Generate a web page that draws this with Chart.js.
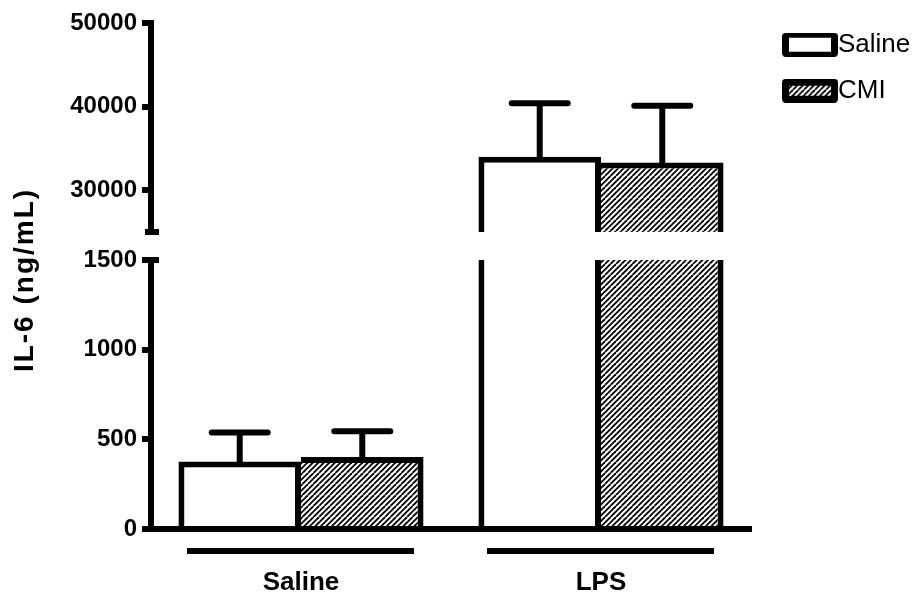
<!DOCTYPE html>
<html>
<head>
<meta charset="utf-8">
<title>IL-6</title>
<script src="https://cdn.jsdelivr.net/npm/chart.js@4.4.1/dist/chart.umd.min.js"></script>
<style>
  html, body { margin: 0; padding: 0; background: #fff; }
</style>
</head>
<body>
<canvas id="graph" width="918" height="599"></canvas>
<script>
// Données (moyenne + SEM, ng/mL)
const categories = ['Saline', 'LPS'];
const seriesNames = ['Saline', 'CMI'];
const salineMean = [377, 34000];
const salineSem = [161, 6400];
const cmiMean = [402, 33300];
const cmiSem = [143, 6800];

// Axe coupé : partie basse et partie haute
const lowerRange = [0, 1500];
const upperRange = [25000, 50000];
const lowerTicks = [0, 500, 1000, 1500];
const upperTicks = [30000, 40000, 50000];

const noir = '#000';
Chart.defaults.font.family = "'Liberation Sans', Arial, sans-serif";
Chart.defaults.color = noir;

// Motif hachuré pour CMI
function hachures(g) {
  const c = document.createElement('canvas');
  c.width = 11; c.height = 11;
  const t = c.getContext('2d');
  t.fillStyle = '#fff';
  t.fillRect(0, 0, 11, 11);
  t.strokeStyle = noir;
  t.lineWidth = 1.8;
  for (let k = -11; k <= 11; k += 5.5) {
    t.beginPath(); t.moveTo(k, 11); t.lineTo(k + 11, 0); t.stroke();
  }
  return g.createPattern(c, 'repeat');
}

// Petites cases de la légende
function caseLegende(hachure, dx, dy) {
  const c = document.createElement('canvas');
  c.width = 56; c.height = 24;
  const g = c.getContext('2d');
  g.fillStyle = noir;
  g.beginPath();
  if (g.roundRect) g.roundRect(0, 0, 56, 24, 4); else g.rect(0, 0, 56, 24);
  g.fill();
  g.fillStyle = hachure ? hachures(g) : '#fff';
  g.fillRect(dx, dy, 56 - 2 * dx, 24 - 2 * dy);
  return c;
}

const ctxGraph = document.getElementById('graph').getContext('2d');
const motif = hachures(ctxGraph);
const casesLegende = [caseLegende(false, 7, 5), caseLegende(true, 7, 7)];

const bas = v => Math.min(v, lowerRange[1]);
const haut = v => (v > lowerRange[1] ? v : null);

// pas de trait du haut quand la barre continue au-dessus de la coupure
function bordureBas(moy, gauche) {
  return c => ({ left: gauche, right: 6, top: moy[c.dataIndex] > lowerRange[1] ? 0 : 6, bottom: 0 });
}

// Barres d'erreur (SEM, vers le haut seulement)
function dessinerErreurs(chart) {
  const ctx = chart.ctx;
  const series = [[salineMean, salineSem, 0, 2], [cmiMean, cmiSem, 1, 3]];
  ctx.save();
  ctx.strokeStyle = noir;
  ctx.lineWidth = 6;
  series.forEach(([moy, sem, iBas, iHaut]) => {
    moy.forEach((m, i) => {
      const enHaut = m > lowerRange[1];
      const meta = chart.getDatasetMeta(enHaut ? iHaut : iBas);
      const axe = chart.scales[enHaut ? 'yHigh' : 'yLow'];
      const x = meta.data[i].x;
      const y0 = axe.getPixelForValue(m);
      const y1 = axe.getPixelForValue(m + sem[i]);
      ctx.lineCap = 'butt';
      ctx.beginPath(); ctx.moveTo(x, y0 + 3); ctx.lineTo(x, y1); ctx.stroke();
      ctx.lineCap = 'round';
      ctx.beginPath(); ctx.moveTo(x - 28, y1); ctx.lineTo(x + 28, y1); ctx.stroke();
    });
  });
  ctx.restore();
}

// Titre de l'axe y, traits sous les groupes, marques de coupure
const decor = {
  id: 'decor',
  afterLayout(chart) {
    const lg = chart.legend;
    lg.left = 775; lg.top = 11.7; lg.right = 918; lg.bottom = 200;
    lg.width = lg.right - lg.left; lg.height = lg.bottom - lg.top;
  },
  afterDatasetsDraw(chart) {
    dessinerErreurs(chart);
  },
  afterDraw(chart) {
    const ctx = chart.ctx;
    const xs = chart.scales.x;
    const yLow = chart.scales.yLow;
    const yHigh = chart.scales.yHigh;
    ctx.save();
    ctx.strokeStyle = noir;
    ctx.lineWidth = 6;
    ctx.lineCap = 'butt';
    categories.forEach((c, i) => {
      const cx = xs.getPixelForValue(i);
      ctx.beginPath();
      ctx.moveTo(cx - 114, chart.chartArea.bottom + 22);
      ctx.lineTo(cx + 113, chart.chartArea.bottom + 22);
      ctx.stroke();
    });
    const yb = yHigh.getPixelForValue(upperRange[0]);
    ctx.beginPath(); ctx.moveTo(145, yb); ctx.lineTo(159, yb); ctx.stroke();
    const yt = yLow.getPixelForValue(lowerRange[1]);
    ctx.beginPath(); ctx.moveTo(142, yt); ctx.lineTo(159, yt); ctx.stroke();

    ctx.translate(25, 280);
    ctx.rotate(-Math.PI / 2);
    ctx.fillStyle = noir;
    ctx.font = "bold 28px 'Liberation Sans', Arial, sans-serif";
    if ('letterSpacing' in ctx) ctx.letterSpacing = '2px';
    ctx.textAlign = 'center';
    ctx.textBaseline = 'middle';
    ctx.fillText('IL-6 (ng/mL)', 0, 0);
    ctx.restore();
  }
};

const axeY = (range, ticks, poids) => ({
  type: 'linear',
  position: 'left',
  stack: 'gauche',
  stackWeight: poids,
  stacked: false,
  min: range[0],
  max: range[1],
  afterBuildTicks: s => { s.ticks = ticks.map(v => ({ value: v })); },
  afterFit: s => { s.width = 151; },
  ticks: { color: noir, padding: 5, font: { size: 24, weight: 'bold' }, callback: v => String(v) },
  grid: { drawOnChartArea: false, drawTicks: true, tickLength: 9, color: noir, lineWidth: 6 },
  border: { display: true, color: noir, width: 6 }
});

new Chart(ctxGraph, {
  type: 'bar',
  data: {
    labels: categories,
    datasets: [
      { label: seriesNames[0], data: salineMean.map(bas), yAxisID: 'yLow', stack: 's',
        backgroundColor: '#fff', borderColor: noir, borderWidth: bordureBas(salineMean, 6) },
      { label: seriesNames[1], data: cmiMean.map(bas), yAxisID: 'yLow', stack: 'c',
        backgroundColor: motif, borderColor: noir, borderWidth: bordureBas(cmiMean, 0) },
      { label: seriesNames[0], data: salineMean.map(haut), yAxisID: 'yHigh', stack: 's',
        backgroundColor: '#fff', borderColor: noir, borderWidth: { left: 6, right: 6, top: 6, bottom: 0 } },
      { label: seriesNames[1], data: cmiMean.map(haut), yAxisID: 'yHigh', stack: 'c',
        backgroundColor: motif, borderColor: noir, borderWidth: { left: 0, right: 6, top: 6, bottom: 0 } }
    ]
  },
  options: {
    responsive: false,
    animation: false,
    events: [],
    categoryPercentage: 0.817,
    barPercentage: 1,
    layout: { padding: { top: 23, left: 0, right: 167, bottom: 0 } },
    scales: {
      x: {
        type: 'category',
        offset: true,
        grid: { display: false, drawTicks: false },
        border: { display: true, color: noir, width: 6 },
        ticks: { color: noir, padding: 38, font: { size: 26, weight: 'bold' } },
        afterFit: s => { s.height = 70; }
      },
      yLow: axeY(lowerRange, lowerTicks, 269),
      yGap: {
        type: 'linear', position: 'left', stack: 'gauche', stackWeight: 28,
        ticks: { display: false }, grid: { display: false }, border: { display: false },
        afterFit: s => { s.width = 151; }
      },
      yHigh: axeY(upperRange, upperTicks, 209)
    },
    plugins: {
      tooltip: { enabled: false },
      legend: {
        position: 'chartArea',
        align: 'start',
        labels: {
          usePointStyle: true,
          pointStyleWidth: 30,
          padding: 20,
          color: noir,
          font: { size: 26 },
          generateLabels: () => seriesNames.map((n, i) => ({
            text: n, pointStyle: casesLegende[i], datasetIndex: i,
            hidden: false, lineWidth: 0, fontColor: noir
          }))
        }
      }
    }
  },
  plugins: [decor]
});
</script>
</body>
</html>
